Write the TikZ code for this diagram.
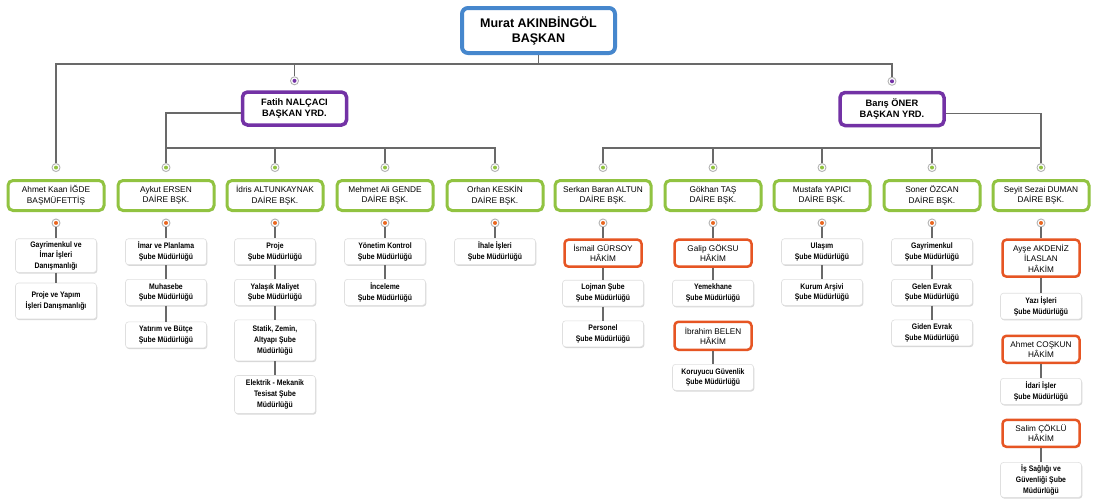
\documentclass[tikz,border=0pt]{standalone}
\usepackage{fontspec}
\setmainfont{Liberation Sans}
\newfontfamily\narrowfont[FakeStretch=0.86]{Liberation Sans}
\usetikzlibrary{positioning,shadows}
\definecolor{baskanmavi}{RGB}{70,135,205}
\definecolor{yrdmor}{RGB}{115,50,165}
\definecolor{daireyesil}{RGB}{145,195,65}
\definecolor{hakimturuncu}{RGB}{230,85,35}
\definecolor{hatgri}{RGB}{105,105,105}
\tikzset{
	baskankutu/.style={rectangle, rounded corners=6pt, draw=baskanmavi, line width=4pt,
		fill=white, minimum width=153pt, minimum height=45pt, align=center,
		font=\bfseries\fontsize{12.5}{15}\selectfont,
		drop shadow={shadow xshift=1pt, shadow yshift=-1.5pt, opacity=0.35}},
	yrdkutu/.style={rectangle, rounded corners=5pt, draw=yrdmor, line width=3.5pt,
		fill=white, minimum width=104pt, minimum height=33pt, align=center,
		font=\bfseries\fontsize{9.3}{11.5}\selectfont,
		drop shadow={shadow xshift=1pt, shadow yshift=-1.5pt, opacity=0.35}},
	dairekutu/.style={rectangle, rounded corners=5pt, draw=daireyesil, line width=3pt,
		fill=white, minimum width=96pt, minimum height=30pt, align=center,
		font=\fontsize{8.3}{10.7}\selectfont,
		drop shadow={shadow xshift=1pt, shadow yshift=-1.2pt, opacity=0.3}},
	hakimkutu/.style={rectangle, rounded corners=4pt, draw=hakimturuncu, line width=2.5pt,
		fill=white, minimum width=77pt, minimum height=27pt, align=center,
		font=\fontsize{8.2}{10.4}\selectfont,
		drop shadow={shadow xshift=1pt, shadow yshift=-1.2pt, opacity=0.3}},
	subekutu/.style={rectangle, rounded corners=3pt, draw=gray!25, line width=0.6pt,
		fill=white, minimum width=81pt, minimum height=26pt, align=center, inner sep=2.5pt,
		font={\narrowfont\bfseries\fontsize{8}{10.6}\selectfont},
		drop shadow={shadow xshift=0.8pt, shadow yshift=-1.2pt, opacity=0.3}},
	nokta/.style={circle, draw=gray!60, fill=white, line width=0.9pt,
		minimum size=8pt, inner sep=0pt},
	ynokta/.style={nokta, path picture={\fill[daireyesil] (path picture bounding box.center) circle (2pt);}},
	mnokta/.style={nokta, path picture={\fill[yrdmor] (path picture bounding box.center) circle (2pt);}},
	tnokta/.style={nokta, path picture={\fill[hakimturuncu!90!yellow] (path picture bounding box.center) circle (2pt);}},
	hat/.style={draw=hatgri, line width=1.1pt}
}
\begin{document}
\begin{tikzpicture}[x=1pt, y=-1pt, node distance=14pt]
	\fill[white] (0,0) rectangle (1100,501);
	\useasboundingbox (0,0) rectangle (1100,501);
	
	% ust kademe
	\node[baskankutu] (baskan) at (538.5,30.5) {Murat AKINBİNGÖL\\BAŞKAN};
	\node[yrdkutu] (fatih) at (294.5,108.5) {Fatih NALÇACI\\BAŞKAN YRD.};
	\node[yrdkutu] (baris) at (892,109) {Barış ÖNER\\BAŞKAN YRD.};
	\node[mnokta, above=5pt of fatih] (mFatih) {};
	\node[mnokta, above=5pt of baris] (mBaris) {};
	
	% daire baskanlari
	\node[dairekutu] (ahmet) at (56,195.5) {Ahmet Kaan İĞDE\\BAŞMÜFETTİŞ};
	\node[dairekutu] (aykut) at (166,195.5) {Aykut ERSEN\\DAİRE BŞK.};
	\node[dairekutu] (idris) at (275,195.5) {İdris ALTUNKAYNAK\\DAİRE BŞK.};
	\node[dairekutu] (mehmet) at (385,195.5) {Mehmet Ali GENDE\\DAİRE BŞK.};
	\node[dairekutu] (orhan) at (495,195.5) {Orhan KESKİN\\DAİRE BŞK.};
	\node[dairekutu] (serkan) at (603,195.5) {Serkan Baran ALTUN\\DAİRE BŞK.};
	\node[dairekutu] (gokhan) at (713,195.5) {Gökhan TAŞ\\DAİRE BŞK.};
	\node[dairekutu] (mustafa) at (822,195.5) {Mustafa YAPICI\\DAİRE BŞK.};
	\node[dairekutu] (soner) at (932,195.5) {Soner ÖZCAN\\DAİRE BŞK.};
	\node[dairekutu] (seyit) at (1041,195.5) {Seyit Sezai DUMAN\\DAİRE BŞK.};
	
	\node[ynokta, above=7pt of ahmet] (yAhmet) {};
	\node[ynokta, above=7pt of aykut] (yAykut) {};
	\node[ynokta, above=7pt of idris] (yIdris) {};
	\node[ynokta, above=7pt of mehmet] (yMehmet) {};
	\node[ynokta, above=7pt of orhan] (yOrhan) {};
	\node[ynokta, above=7pt of serkan] (ySerkan) {};
	\node[ynokta, above=7pt of gokhan] (yGokhan) {};
	\node[ynokta, above=7pt of mustafa] (yMustafa) {};
	\node[ynokta, above=7pt of soner] (ySoner) {};
	\node[ynokta, above=7pt of seyit] (ySeyit) {};
	
	\node[tnokta, below=6.5pt of ahmet] (tAhmet) {};
	\node[tnokta, below=6.5pt of aykut] (tAykut) {};
	\node[tnokta, below=6.5pt of idris] (tIdris) {};
	\node[tnokta, below=6.5pt of mehmet] (tMehmet) {};
	\node[tnokta, below=6.5pt of orhan] (tOrhan) {};
	\node[tnokta, below=6.5pt of serkan] (tSerkan) {};
	\node[tnokta, below=6.5pt of gokhan] (tGokhan) {};
	\node[tnokta, below=6.5pt of mustafa] (tMustafa) {};
	\node[tnokta, below=6.5pt of soner] (tSoner) {};
	\node[tnokta, below=6.5pt of seyit] (tSeyit) {};
	
	% sube mudurlukleri
	\node[subekutu, below=11pt of tAhmet] (ahmet1) {Gayrimenkul ve\\İmar İşleri\\Danışmanlığı};
	\node[subekutu, minimum height=36pt, below=10pt of ahmet1] (ahmet2) {Proje ve Yapım\\İşleri Danışmanlığı};
	
	\node[subekutu, below=11pt of tAykut] (aykut1) {İmar ve Planlama\\Şube Müdürlüğü};
	\node[subekutu, below=of aykut1] (aykut2) {Muhasebe\\Şube Müdürlüğü};
	\node[subekutu, below=16pt of aykut2] (aykut3) {Yatırım ve Bütçe\\Şube Müdürlüğü};
	
	\node[subekutu, below=11pt of tIdris] (idris1) {Proje\\Şube Müdürlüğü};
	\node[subekutu, below=of idris1] (idris2) {Yalaşık Maliyet\\Şube Müdürlüğü};
	\node[subekutu, minimum height=41pt, below=of idris2] (idris3) {Statik, Zemin,\\Altyapı Şube\\Müdürlüğü};
	\node[subekutu, minimum height=38pt, below=of idris3] (idris4) {Elektrik - Mekanik\\Tesisat Şube\\Müdürlüğü};
	
	\node[subekutu, below=11pt of tMehmet] (mehmet1) {Yönetim Kontrol\\Şube Müdürlüğü};
	\node[subekutu, below=of mehmet1] (mehmet2) {İnceleme\\Şube Müdürlüğü};
	
	\node[subekutu, below=11pt of tOrhan] (orhan1) {İhale İşleri\\Şube Müdürlüğü};
	
	\node[hakimkutu, below=11pt of tSerkan] (serkan1) {İsmail GÜRSOY\\HÂKİM};
	\node[subekutu, below=12pt of serkan1] (serkan2) {Lojman Şube\\Şube Müdürlüğü};
	\node[subekutu, below=of serkan2] (serkan3) {Personel\\Şube Müdürlüğü};
	
	\node[hakimkutu, below=11pt of tGokhan] (gokhan1) {Galip GÖKSU\\HÂKİM};
	\node[subekutu, below=12pt of gokhan1] (gokhan2) {Yemekhane\\Şube Müdürlüğü};
	\node[hakimkutu, minimum height=28pt, below=of gokhan2] (gokhan3) {İbrahim BELEN\\HÂKİM};
	\node[subekutu, below=13pt of gokhan3] (gokhan4) {Koruyucu Güvenlik\\Şube Müdürlüğü};
	
	\node[subekutu, below=11pt of tMustafa] (mustafa1) {Ulaşım\\Şube Müdürlüğü};
	\node[subekutu, below=of mustafa1] (mustafa2) {Kurum Arşivi\\Şube Müdürlüğü};
	
	\node[subekutu, below=11pt of tSoner] (soner1) {Gayrimenkul\\Şube Müdürlüğü};
	\node[subekutu, below=of soner1] (soner2) {Gelen Evrak\\Şube Müdürlüğü};
	\node[subekutu, below=of soner2] (soner3) {Giden Evrak\\Şube Müdürlüğü};
	
	\node[hakimkutu, minimum height=37pt, below=11pt of tSeyit] (seyit1) {Ayşe AKDENİZ\\İLASLAN\\HÂKİM};
	\node[subekutu, below=15pt of seyit1] (seyit2) {Yazı İşleri\\Şube Müdürlüğü};
	\node[hakimkutu, below=15pt of seyit2] (seyit3) {Ahmet COŞKUN\\HÂKİM};
	\node[subekutu, below=of seyit3] (seyit4) {İdari İşler\\Şube Müdürlüğü};
	\node[hakimkutu, below=of seyit4] (seyit5) {Salim ÇÖKLÜ\\HÂKİM};
	\node[subekutu, minimum height=35pt, below=of seyit5] (seyit6) {İş Sağlığı ve\\Güvenliği Şube\\Müdürlüğü};
	
	% baglanti hatlari
	\coordinate (ustHat) at (538.5,64);
	\coordinate (fatihHat) at (166,148);
	\coordinate (barisHat) at (1041,148);
	\draw[hat] (baskan.south) -- (ustHat);
	\draw[hat] (ustHat) -| (yAhmet);
	\draw[hat] (ustHat) -| (mFatih);
	\draw[hat] (ustHat) -| (mBaris);
	
	\draw[hat] ([yshift=-4.5pt]fatih.west) -| (yAykut);
	\draw[hat] (fatihHat) -| (yIdris);
	\draw[hat] (fatihHat) -| (yMehmet);
	\draw[hat] (fatihHat) -| (yOrhan);
	
	\draw[hat] ([yshift=-4.5pt]baris.east) -| (ySeyit);
	\draw[hat] (barisHat) -| (ySerkan);
	\draw[hat] (barisHat) -| (yGokhan);
	\draw[hat] (barisHat) -| (yMustafa);
	\draw[hat] (barisHat) -| (ySoner);
	
	\draw[hat] (tAhmet) -- (ahmet1) -- (ahmet2);
	\draw[hat] (tAykut) -- (aykut1) -- (aykut2) -- (aykut3);
	\draw[hat] (tIdris) -- (idris1) -- (idris2) -- (idris3) -- (idris4);
	\draw[hat] (tMehmet) -- (mehmet1) -- (mehmet2);
	\draw[hat] (tOrhan) -- (orhan1);
	\draw[hat] (tSerkan) -- (serkan1) -- (serkan2) -- (serkan3);
	\draw[hat] (tGokhan) -- (gokhan1) -- (gokhan2);
	\draw[hat] (gokhan3) -- (gokhan4);
	\draw[hat] (tMustafa) -- (mustafa1) -- (mustafa2);
	\draw[hat] (tSoner) -- (soner1) -- (soner2) -- (soner3);
	\draw[hat] (tSeyit) -- (seyit1) -- (seyit2);
	\draw[hat] (seyit3) -- (seyit4);
	\draw[hat] (seyit5) -- (seyit6);
\end{tikzpicture}
\end{document}
